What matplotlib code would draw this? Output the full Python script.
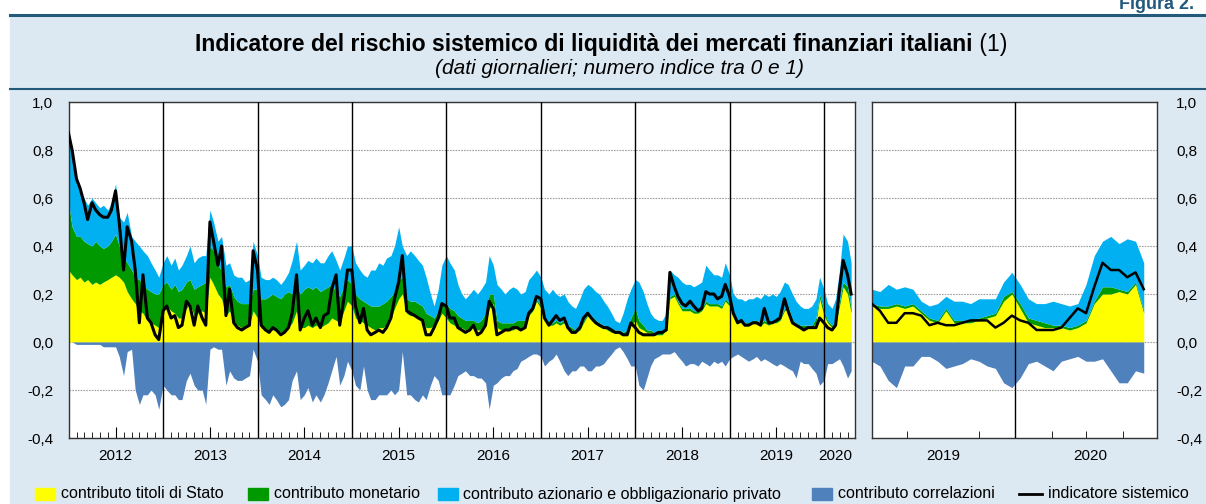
import numpy as np
import pandas as pd
import matplotlib
matplotlib.use("Agg")
import matplotlib.pyplot as plt
import matplotlib.dates as mdates
from matplotlib.patches import Rectangle
from matplotlib.lines import Line2D

plt.rcParams['font.family'] = ['Liberation Sans', 'DejaVu Sans']

# ---- dati: pannello sinistro (quindicinali, 2012 - apr. 2020) ----
date_lungo = pd.date_range('2012-01-01', periods=200, freq='SMS')

titoli_stato = [
    .30, .28, .26, .27, .25, .26, .24, .25, .24, .25, .26, .27, .28, .27, .25, .21, .18, .16, .13, .12, .09, .08, .07, .06,
    .14, .15, .13, .12, .10, .10, .14, .16, .11, .12, .13, .12, .27, .24, .20, .18, .11, .13, .08, .07, .06, .06, .07, .13,
    .10, .06, .05, .05, .05, .05, .04, .05, .06, .08, .13, .06, .06, .07, .06, .07, .06, .07, .08, .10, .09, .08, .13, .17,
    .15, .10, .09, .08, .07, .06, .05, .06, .06, .07, .10, .14, .18, .20, .12, .11, .11, .10, .09, .06, .06, .07, .09, .12,
    .10, .08, .07, .06, .06, .05, .06, .06, .05, .05, .07, .14, .16, .06, .05, .05, .05, .05, .06, .06, .07, .11, .13, .17,
    .14, .09, .07, .07, .08, .07, .08, .06, .05, .04, .05, .08, .11, .10, .08, .07, .06, .05, .04, .04, .04, .03, .04, .07,
    .09, .06, .05, .04, .04, .03, .03, .03, .05, .18, .19, .16, .13, .13, .13, .12, .12, .13, .16, .15, .15, .15, .14, .17,
    .15, .11, .08, .08, .07, .07, .08, .08, .07, .08, .07, .08, .08, .09, .13, .14, .08, .07, .06, .06, .06, .06, .08, .18,
    .11, .08, .06, .07, .15, .23, .20, .12]
# livello cumulato titoli + monetario
cum_monetario = [
    .58, .48, .44, .44, .42, .41, .40, .42, .40, .39, .40, .42, .45, .40, .35, .33, .30, .27, .26, .24, .22, .21, .20, .20,
    .24, .25, .22, .24, .21, .22, .25, .26, .22, .23, .24, .25, .40, .38, .32, .30, .23, .24, .19, .17, .16, .16, .16, .22,
    .22, .18, .18, .19, .20, .19, .18, .20, .21, .20, .24, .20, .22, .23, .22, .23, .21, .22, .23, .24, .21, .19, .23, .26,
    .24, .20, .18, .17, .16, .15, .15, .15, .16, .17, .19, .21, .26, .27, .18, .17, .17, .16, .15, .12, .11, .10, .13, .16,
    .16, .14, .13, .11, .10, .09, .09, .09, .08, .09, .12, .20, .20, .09, .08, .08, .08, .08, .09, .09, .09, .13, .14, .18,
    .15, .10, .08, .08, .09, .08, .09, .07, .06, .05, .06, .09, .12, .11, .09, .08, .07, .06, .05, .05, .05, .04, .05, .10,
    .14, .09, .07, .05, .05, .04, .04, .04, .06, .19, .20, .17, .14, .14, .14, .13, .13, .14, .17, .16, .16, .16, .15, .18,
    .16, .12, .09, .09, .08, .08, .09, .09, .08, .09, .08, .09, .09, .10, .14, .15, .09, .08, .07, .07, .07, .07, .10, .20,
    .13, .09, .07, .08, .17, .25, .23, .14]
# livello cumulato titoli + monetario + azionario
cum_azionario = [
    .84, .78, .66, .63, .60, .57, .60, .58, .56, .57, .55, .58, .66, .52, .50, .54, .44, .42, .40, .38, .36, .33, .30, .27,
    .33, .36, .32, .35, .30, .32, .36, .40, .33, .35, .36, .36, .55, .50, .42, .44, .32, .33, .28, .27, .27, .25, .26, .42,
    .36, .27, .26, .26, .27, .26, .24, .26, .29, .34, .42, .30, .32, .34, .33, .35, .33, .33, .36, .38, .34, .30, .35, .40,
    .40, .33, .30, .28, .27, .30, .30, .33, .32, .35, .36, .40, .48, .40, .36, .38, .36, .34, .32, .27, .20, .15, .22, .32,
    .36, .33, .30, .24, .20, .18, .20, .22, .20, .22, .25, .36, .32, .24, .22, .20, .22, .23, .22, .20, .21, .26, .28, .30,
    .27, .22, .20, .22, .20, .19, .20, .17, .15, .14, .18, .22, .24, .23, .21, .20, .17, .15, .12, .09, .08, .12, .18, .22,
    .26, .25, .21, .16, .12, .10, .09, .09, .12, .30, .28, .27, .25, .24, .24, .23, .24, .25, .32, .30, .28, .28, .27, .33,
    .28, .20, .18, .18, .17, .18, .18, .19, .18, .20, .19, .20, .19, .21, .25, .24, .20, .17, .15, .14, .14, .15, .18, .27,
    .22, .16, .14, .18, .30, .45, .42, .33]
correlazioni = [
    0, 0, -.01, -.01, -.01, -.01, -.01, -.01, -.01, -.02, -.02, -.02, -.02, -.06, -.14, -.04, -.03, -.20, -.26, -.22, -.22, -.20, -.22, -.28,
    -.18, -.20, -.22, -.22, -.24, -.24, -.16, -.13, -.18, -.20, -.20, -.26, -.03, -.02, -.03, -.03, -.18, -.12, -.15, -.16, -.16, -.15, -.14, -.03,
    -.08, -.22, -.24, -.26, -.22, -.24, -.27, -.26, -.24, -.16, -.12, -.24, -.22, -.19, -.25, -.22, -.25, -.22, -.17, -.12, -.06, -.18, -.14, -.08,
    -.12, -.18, -.20, -.10, -.20, -.24, -.24, -.22, -.22, -.22, -.20, -.22, -.20, -.04, -.22, -.22, -.24, -.25, -.22, -.24, -.18, -.14, -.16, -.22,
    -.22, -.22, -.18, -.14, -.13, -.12, -.14, -.14, -.15, -.15, -.17, -.28, -.18, -.17, -.15, -.14, -.14, -.12, -.11, -.08, -.07, -.06, -.05, -.05,
    -.06, -.10, -.08, -.07, -.05, -.08, -.12, -.14, -.12, -.12, -.10, -.10, -.12, -.12, -.10, -.10, -.09, -.07, -.05, -.03, -.02, -.04, -.07, -.10,
    -.10, -.18, -.20, -.15, -.10, -.07, -.06, -.05, -.05, -.05, -.04, -.06, -.08, -.10, -.09, -.09, -.10, -.08, -.09, -.10, -.08, -.09, -.08, -.10,
    -.07, -.06, -.05, -.06, -.07, -.08, -.07, -.06, -.08, -.07, -.08, -.09, -.10, -.09, -.10, -.11, -.12, -.15, -.08, -.09, -.09, -.11, -.13, -.18,
    -.16, -.09, -.09, -.08, -.07, -.10, -.15, -.12]
indicatore = [
    .87, .80, .68, .64, .58, .51, .58, .55, .53, .52, .52, .55, .63, .50, .30, .48, .42, .30, .08, .28, .10, .08, .03, .01,
    .13, .15, .10, .11, .06, .07, .17, .15, .07, .15, .10, .07, .50, .42, .32, .40, .11, .22, .08, .06, .05, .06, .07, .38,
    .30, .07, .05, .04, .06, .05, .03, .04, .06, .12, .28, .05, .10, .13, .07, .10, .06, .11, .12, .22, .28, .07, .18, .30,
    .30, .15, .08, .14, .05, .03, .04, .05, .04, .06, .10, .18, .25, .36, .13, .12, .11, .10, .09, .03, .03, .06, .10, .16,
    .15, .10, .10, .06, .05, .04, .05, .07, .03, .04, .07, .17, .14, .03, .04, .05, .05, .06, .06, .05, .06, .12, .14, .19,
    .18, .10, .07, .09, .11, .09, .10, .06, .04, .04, .06, .10, .12, .10, .08, .07, .06, .06, .05, .04, .04, .03, .03, .08,
    .06, .04, .03, .03, .03, .03, .04, .04, .05, .29, .23, .19, .16, .15, .17, .15, .13, .14, .21, .20, .20, .18, .19, .24,
    .19, .12, .08, .09, .07, .07, .08, .08, .07, .14, .08, .08, .09, .10, .18, .13, .08, .07, .06, .05, .06, .06, .06, .10,
    .08, .06, .05, .07, .22, .34, .28, .20]

# ---- dati: pannello destro (settimanali, set. 2019 - apr. 2020) ----
date_breve = pd.date_range('2019-09-01', periods=34, freq='7D')
titoli_stato_b = [.15, .14, .14, .15, .14, .15, .12, .09, .08, .13, .08, .08, .08, .09, .10, .11, .17,
                  .20, .14, .08, .07, .06, .06, .06, .05, .06, .08, .16, .20, .20, .21, .20, .24, .12]
cum_monetario_b = [.16, .15, .15, .16, .15, .16, .13, .10, .09, .14, .09, .09, .09, .10, .11, .12, .19,
                   .21, .16, .10, .09, .08, .07, .07, .06, .07, .09, .17, .23, .23, .22, .21, .25, .13]
cum_azionario_b = [.22, .21, .24, .22, .23, .22, .17, .15, .16, .19, .17, .17, .16, .18, .18, .18, .25,
                   .29, .24, .18, .16, .16, .17, .16, .15, .16, .24, .36, .42, .44, .41, .43, .42, .33]
correlazioni_b = [-.08, -.10, -.16, -.19, -.10, -.10, -.06, -.06, -.08, -.11, -.10, -.09, -.07, -.08, -.10, -.11, -.17,
                  -.19, -.15, -.09, -.08, -.10, -.12, -.08, -.07, -.06, -.08, -.08, -.07, -.12, -.17, -.17, -.12, -.13]
indicatore_b = [.16, .13, .08, .08, .12, .12, .11, .07, .08, .07, .07, .08, .09, .09, .09, .06, .08,
                .11, .09, .08, .05, .05, .05, .06, .10, .14, .12, .23, .33, .30, .30, .27, .29, .22]

anni_sx = ['2012', '2013', '2014', '2015', '2016', '2017', '2018', '2019', '2020']
pos_anni_sx = ['2012-07-01', '2013-07-01', '2014-07-01', '2015-07-01', '2016-07-01',
               '2017-07-01', '2018-07-01', '2019-07-01', '2020-02-15']
anni_dx = ['2019', '2020']
pos_anni_dx = ['2019-11-01', '2020-03-05']
etichette_y = ['-0,4', '-0,2', '0,0', '0,2', '0,4', '0,6', '0,8', '1,0']

voci_legenda = ['contributo titoli di Stato', 'contributo monetario',
                'contributo azionario e obbligazionario privato',
                'contributo correlazioni', 'indicatore sistemico']

GIALLO = '#ffff00'
VERDE = '#009a00'
AZZURRO = '#00b0f0'
BLU = '#4f81bd'
SFONDO = '#dde9f2'
LINEA = '#23597c'

W, H = 1206, 504
fig = plt.figure(figsize=(W / 100, H / 100), dpi=100)

# cornice
fig.add_artist(Rectangle((10 / W, 0), 1, 1 - 16 / H, transform=fig.transFigure,
                         color=SFONDO, zorder=0))
fig.add_artist(Line2D([10 / W, 1], [1 - 15 / H] * 2, color=LINEA, lw=2.2))
fig.add_artist(Line2D([10 / W, 1], [1 - 89 / H] * 2, color=LINEA, lw=1.5))
fig.text(1119 / W, 1 - 9 / H, 'Figura 2.', fontsize=13, fontweight='bold',
         color=LINEA, ha='left', va='baseline')

# titolo (parte in grassetto + "(1)")
t1 = fig.text(0, 1 - 45 / H, 'Indicatore del rischio sistemico di liquidità dei mercati finanziari italiani',
              fontsize=16.6, fontweight='bold', va='center', ha='left')
t2 = fig.text(0, 1 - 45 / H, ' (1)', fontsize=16.6, va='center', ha='left')
fig.text(619 / W, 1 - 68 / H, '(dati giornalieri; numero indice tra 0 e 1)',
         fontsize=15, style='italic', ha='center', va='center')
r = fig.canvas.get_renderer()
w1 = t1.get_window_extent(r).width
w2 = t2.get_window_extent(r).width
x0 = 601 - (w1 + w2) / 2
t1.set_x(x0 / W)
t2.set_x((x0 + w1) / W)

ax1 = fig.add_axes([68.5 / W, 66 / H, 786 / W, 336 / H])
ax2 = fig.add_axes([871.7 / W, 66 / H, 285 / W, 336 / H])


def disegna(ax, x, tit, mon, azi, cor, ind, lw):
    ax.fill_between(x, 0, tit, color=GIALLO, lw=0, zorder=2)
    ax.fill_between(x, tit, mon, color=VERDE, lw=0, zorder=2)
    ax.fill_between(x, mon, azi, color=AZZURRO, lw=0, zorder=2)
    ax.fill_between(x, 0, cor, color=BLU, lw=0, zorder=2)
    ax.plot(x, ind, color='black', lw=lw, zorder=4)
    ax.set_ylim(-0.4, 1.0)
    ax.set_yticks(np.arange(-0.4, 1.01, 0.2))
    ax.set_yticklabels(etichette_y)
    ax.yaxis.grid(True, color='#a0a0a0', linestyle=(0, (1.5, 1)), lw=0.8)
    ax.set_axisbelow(True)
    for s in ax.spines.values():
        s.set_color('#333333')
        s.set_linewidth(1.0)
    ax.xaxis.set_minor_locator(mdates.MonthLocator())
    ax.tick_params(axis='y', length=0, labelsize=11)
    ax.tick_params(axis='x', which='both', direction='in', top=False, labelsize=11, pad=8)


disegna(ax1, date_lungo, titoli_stato, cum_monetario, cum_azionario,
        correlazioni, indicatore, 2.2)
ax1.set_xlim(pd.Timestamp('2012-01-01'), pd.Timestamp('2020-04-28'))
ax1.set_xticks(pd.to_datetime(pos_anni_sx))
ax1.set_xticklabels(anni_sx)
ax1.tick_params(axis='x', which='major', length=8)
ax1.tick_params(axis='x', which='minor', length=4)
ax1.xaxis.get_major_ticks()[-1].tick1line.set_visible(False)
ax1.tick_params(axis='y', pad=11)
for a in range(2013, 2021):
    ax1.axvline(pd.Timestamp(f'{a}-01-01'), color='black', lw=1, zorder=3)

disegna(ax2, date_breve, titoli_stato_b, cum_monetario_b, cum_azionario_b,
        correlazioni_b, indicatore_b, 1.8)
ax2.set_xlim(pd.Timestamp('2019-09-01'), pd.Timestamp('2020-04-30'))
ax2.set_xticks(pd.to_datetime(pos_anni_dx))
ax2.set_xticklabels(anni_dx)
ax2.tick_params(axis='x', which='major', length=0)
ax2.tick_params(axis='x', which='minor', length=5)
ax2.yaxis.tick_right()
ax2.tick_params(axis='y', pad=14)
ax2.axvline(pd.Timestamp('2020-01-01'), color='black', lw=1, zorder=3)

# legenda
yl = 1 - 494 / H
colori = [GIALLO, VERDE, AZZURRO, BLU]
x_quad = [35, 248, 438, 812]
x_testo = [61, 274, 463, 838]
for c, xq in zip(colori, x_quad):
    fig.add_artist(Rectangle((xq / W, yl - 6 / H), 20 / W, 12 / H,
                             transform=fig.transFigure, color=c))
fig.add_artist(Line2D([1019 / W, 1042 / W], [yl, yl], color='black', lw=2))
for voce, xt in zip(voci_legenda, x_testo + [1048]):
    fig.text(xt / W, yl, voce, fontsize=11.5, ha='left', va='center')

fig.savefig('out.png', dpi=100)
